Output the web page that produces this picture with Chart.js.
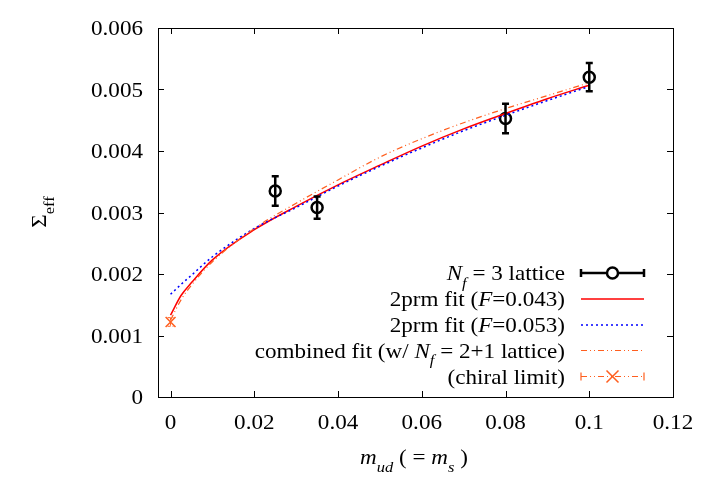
<!DOCTYPE html>
<html>
<head>
<meta charset="utf-8">
<script src="https://cdn.jsdelivr.net/npm/chart.js@4"></script>
<style>
  html, body { margin: 0; padding: 0; background: #fff; }
  #wrap { width: 708px; height: 496px; }
</style>
</head>
<body>
<div id="wrap"><canvas id="chart" width="708" height="496"></canvas></div>
<script>
// lattice data (N_f = 3)
const M_UD      = [0.025, 0.035, 0.08, 0.1];
const SIGMA_LAT = [0.00335, 0.00308, 0.00453, 0.00520];
const SIGMA_ERR = [0.00024, 0.00018, 0.00024, 0.00023];

// fit curves
const FIT_X    = [0, 0.0025, 0.005, 0.01, 0.02, 0.03, 0.04, 0.05, 0.06, 0.07, 0.08, 0.09, 0.1];
const FIT_043  = [0.00133, 0.00165, 0.00186, 0.00223, 0.00272, 0.00310, 0.00345, 0.00377, 0.00408, 0.00436, 0.00461, 0.00485, 0.00507];
const FIT_053  = [0.00167, 0.00183, 0.00198, 0.00228, 0.00274, 0.00308, 0.00343, 0.00375, 0.00405, 0.00433, 0.00458, 0.00482, 0.00505];
const FIT_COMB = [0.00125, 0.00158, 0.00182, 0.00220, 0.00274, 0.00315, 0.00353, 0.00390, 0.00420, 0.00446, 0.00469, 0.00490, 0.00511];

// chiral limit
const CHIRAL_X   = [0];
const CHIRAL_Y   = [0.00122];
const CHIRAL_ERR = [0.00007];

const X_TICKS = [0, 0.02, 0.04, 0.06, 0.08, 0.1, 0.12];
const X_LABELS = ['0', '0.02', '0.04', '0.06', '0.08', '0.1', '0.12'];
const Y_TICKS = [0, 0.001, 0.002, 0.003, 0.004, 0.005, 0.006];
const Y_LABELS = ['0', '0.001', '0.002', '0.003', '0.004', '0.005', '0.006'];

const RED    = '#ff0000';
const BLUE   = '#0000ff';
const ORANGE = '#ff5f1f';
const DDOT   = [6, 3, 1, 3, 1, 3];

const FONT   = '"Liberation Serif", "Times New Roman", serif';
const FSIZE  = 21;
const SX     = 1.1; // gnuplot fonts look a bit wide

const LEGEND = [
  [{ t: 'N', i: true }, { t: 'f', i: true, sub: true }, { t: ' = 3 lattice' }],
  [{ t: '2prm fit (' }, { t: 'F', i: true }, { t: '=0.043)' }],
  [{ t: '2prm fit (' }, { t: 'F', i: true }, { t: '=0.053)' }],
  [{ t: 'combined fit (w/ ' }, { t: 'N', i: true }, { t: 'f', i: true, sub: true }, { t: ' = 2+1 lattice)' }],
  [{ t: '(chiral limit)' }],
];

const pts = (xs, ys) => xs.map((x, k) => ({ x, y: ys[k] }));

function segFont(s, size) {
  const sz = s.sub ? Math.round(size * 0.72) : size;
  return (s.i ? 'italic ' : '') + sz + 'px ' + FONT;
}

function richWidth(ctx, segs, size) {
  let w = 0;
  segs.forEach(s => { ctx.font = segFont(s, size); w += ctx.measureText(s.t).width; });
  return w * SX;
}

// draws a run of text pieces (italic / subscript), stretched horizontally
function drawRich(ctx, segs, x, y, size, align) {
  const w = richWidth(ctx, segs, size);
  let x0 = align === 'right' ? x - w : align === 'center' ? x - w / 2 : x;
  ctx.save();
  ctx.translate(x0, y);
  ctx.scale(SX, 1);
  ctx.fillStyle = '#000';
  ctx.textBaseline = 'alphabetic';
  ctx.textAlign = 'left';
  let cx = 0;
  segs.forEach(s => {
    ctx.font = segFont(s, size);
    ctx.fillText(s.t, cx, s.sub ? size * 0.36 : 0);
    cx += ctx.measureText(s.t).width;
  });
  ctx.restore();
}

function errBar(ctx, px, y1, y2, cap) {
  ctx.beginPath();
  ctx.moveTo(px, y1); ctx.lineTo(px, y2);
  ctx.moveTo(px - cap, y1); ctx.lineTo(px + cap, y1);
  ctx.moveTo(px - cap, y2); ctx.lineTo(px + cap, y2);
  ctx.stroke();
}

const gnuplotFrame = {
  id: 'gnuplotFrame',
  afterDatasetsDraw(chart) {
    const { ctx, scales: { x, y } } = chart;

    // error bars
    ctx.save();
    ctx.strokeStyle = '#000';
    ctx.lineWidth = 2.5;
    M_UD.forEach((m, k) => {
      errBar(ctx, x.getPixelForValue(m),
        y.getPixelForValue(SIGMA_LAT[k] + SIGMA_ERR[k]),
        y.getPixelForValue(SIGMA_LAT[k] - SIGMA_ERR[k]), 3.5);
    });
    ctx.strokeStyle = ORANGE;
    ctx.lineWidth = 1;
    ctx.setLineDash([3, 2]);
    CHIRAL_X.forEach((m, k) => {
      errBar(ctx, x.getPixelForValue(m),
        y.getPixelForValue(CHIRAL_Y[k] + CHIRAL_ERR[k]),
        y.getPixelForValue(CHIRAL_Y[k] - CHIRAL_ERR[k]), 3);
    });
    ctx.restore();
  },
  afterDraw(chart) {
    const { ctx, chartArea: a, scales: { x, y } } = chart;
    ctx.save();
    ctx.strokeStyle = '#000';
    ctx.lineWidth = 1;
    ctx.strokeRect(a.left + 0.5, a.top + 0.5, a.right - a.left, a.bottom - a.top);

    // inward ticks on all four sides
    ctx.beginPath();
    X_TICKS.forEach(v => {
      const px = Math.round(x.getPixelForValue(v)) + 0.5;
      ctx.moveTo(px, a.bottom); ctx.lineTo(px, a.bottom - 6);
      ctx.moveTo(px, a.top); ctx.lineTo(px, a.top + 6);
    });
    Y_TICKS.forEach(v => {
      const py = Math.round(y.getPixelForValue(v)) + 0.5;
      ctx.moveTo(a.left, py); ctx.lineTo(a.left + 6, py);
      ctx.moveTo(a.right, py); ctx.lineTo(a.right - 6, py);
    });
    ctx.stroke();

    X_TICKS.forEach((v, k) => drawRich(ctx, [{ t: X_LABELS[k] }], x.getPixelForValue(v), a.bottom + 32, FSIZE, 'center'));
    Y_TICKS.forEach((v, k) => drawRich(ctx, [{ t: Y_LABELS[k] }], a.left - 15, y.getPixelForValue(v) + 7, FSIZE, 'right'));

    // axis titles (y title reads upward)
    ctx.save();
    ctx.translate(46, 212);
    ctx.rotate(-Math.PI / 2);
    drawRich(ctx, [{ t: 'Σ' }, { t: 'eff', sub: true }], 0, 0, FSIZE, 'center');
    ctx.restore();
    drawRich(ctx, [
      { t: 'm', i: true }, { t: 'ud', i: true, sub: true }, { t: ' ( = ' },
      { t: 'm', i: true }, { t: 's', i: true, sub: true }, { t: ' )' },
    ], 414, 464, FSIZE, 'center');

    // legend
    const rowY = [273, 299, 325, 350.5, 376.5];
    const x1 = 581, x2 = 644, xm = (x1 + x2) / 2;
    LEGEND.forEach((segs, k) => drawRich(ctx, segs, 565, rowY[k] + 7, FSIZE, 'right'));

    const sample = (k, color, width, dash) => {
      ctx.strokeStyle = color;
      ctx.lineWidth = width;
      ctx.setLineDash(dash);
      ctx.beginPath();
      ctx.moveTo(x1, rowY[k]); ctx.lineTo(x2, rowY[k]);
      ctx.stroke();
      ctx.setLineDash([]);
    };
    const caps = (k, color, width) => {
      ctx.strokeStyle = color;
      ctx.lineWidth = width;
      ctx.beginPath();
      ctx.moveTo(x1, rowY[k] - 4); ctx.lineTo(x1, rowY[k] + 4);
      ctx.moveTo(x2, rowY[k] - 4); ctx.lineTo(x2, rowY[k] + 4);
      ctx.stroke();
    };

    sample(0, '#000', 2.5, []);
    caps(0, '#000', 2.5);
    ctx.fillStyle = '#fff';
    ctx.beginPath(); ctx.arc(xm, rowY[0], 5.5, 0, Math.PI * 2); ctx.fill(); ctx.stroke();

    sample(1, RED, 1.5, []);
    sample(2, BLUE, 1.5, [2, 3]);
    sample(3, ORANGE, 1.2, DDOT);
    sample(4, ORANGE, 1.2, DDOT);
    caps(4, ORANGE, 1.2);
    ctx.lineWidth = 1.5;
    ctx.beginPath();
    ctx.moveTo(xm - 6, rowY[4] - 6); ctx.lineTo(xm + 6, rowY[4] + 6);
    ctx.moveTo(xm + 6, rowY[4] - 6); ctx.lineTo(xm - 6, rowY[4] + 6);
    ctx.stroke();
    ctx.restore();
  }
};

const ctx = document.getElementById('chart').getContext('2d');

new Chart(ctx, {
  type: 'scatter',
  data: {
    datasets: [
      {
        label: 'combined fit',
        type: 'line',
        data: pts(FIT_X, FIT_COMB),
        borderColor: ORANGE,
        borderWidth: 1.2,
        borderDash: DDOT,
        pointRadius: 0,
        cubicInterpolationMode: 'monotone',
        fill: false,
      },
      {
        label: '2prm fit (F=0.053)',
        type: 'line',
        data: pts(FIT_X, FIT_053),
        borderColor: BLUE,
        borderWidth: 1.5,
        borderDash: [2, 3],
        pointRadius: 0,
        cubicInterpolationMode: 'monotone',
        fill: false,
      },
      {
        label: '2prm fit (F=0.043)',
        type: 'line',
        data: pts(FIT_X, FIT_043),
        borderColor: RED,
        borderWidth: 1.5,
        pointRadius: 0,
        cubicInterpolationMode: 'monotone',
        fill: false,
      },
      {
        label: 'chiral limit',
        data: pts(CHIRAL_X, CHIRAL_Y),
        pointStyle: 'crossRot',
        pointRadius: 7,
        borderColor: ORANGE,
        borderWidth: 1.5,
      },
      {
        label: 'Nf = 3 lattice',
        data: pts(M_UD, SIGMA_LAT),
        pointStyle: 'circle',
        pointRadius: 5.5,
        borderColor: '#000',
        backgroundColor: 'rgba(0,0,0,0)',
        borderWidth: 2.5,
      },
    ]
  },
  options: {
    responsive: false,
    animation: false,
    layout: { padding: { top: 28, right: 35, left: 0, bottom: 0 } },
    plugins: { legend: { display: false }, tooltip: { enabled: false } },
    scales: {
      x: {
        type: 'linear',
        min: -0.003,
        max: 0.12,
        grid: { display: false },
        border: { display: false },
        ticks: { display: false },
        afterBuildTicks: s => { s.ticks = X_TICKS.map(v => ({ value: v })); },
        afterFit: s => { s.height = 99; },
      },
      y: {
        type: 'linear',
        min: 0,
        max: 0.006,
        grid: { display: false },
        border: { display: false },
        ticks: { display: false },
        afterBuildTicks: s => { s.ticks = Y_TICKS.map(v => ({ value: v })); },
        afterFit: s => { s.width = 158; },
      }
    }
  },
  plugins: [gnuplotFrame]
});
</script>
</body>
</html>
